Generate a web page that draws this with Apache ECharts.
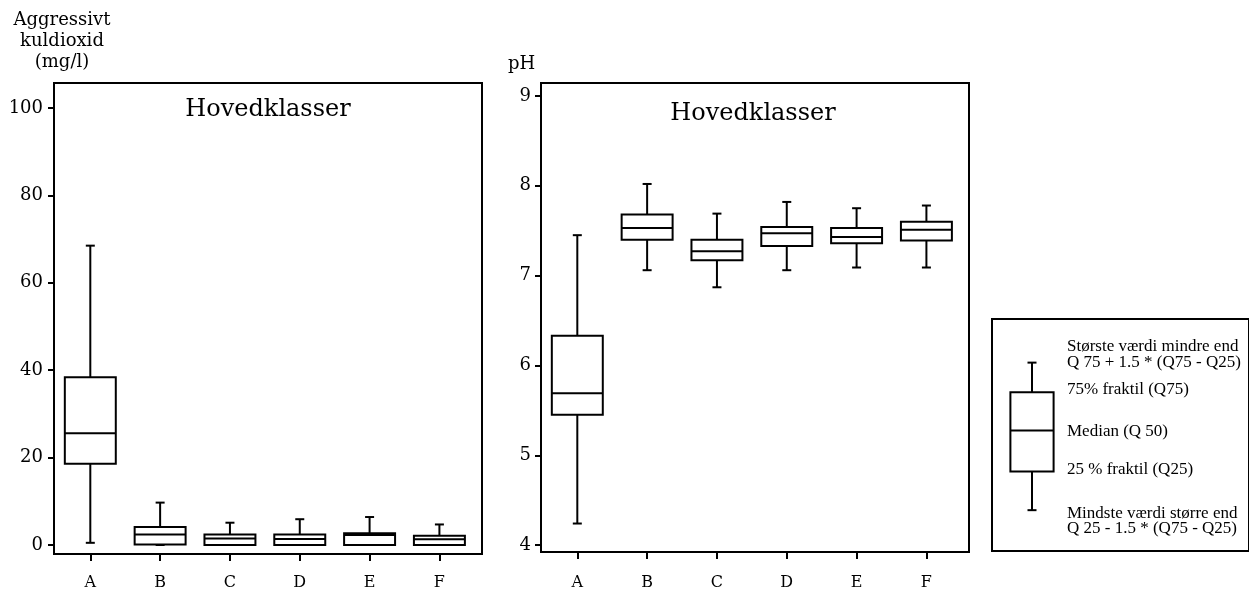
<!DOCTYPE html>
<html><head><meta charset="utf-8">
<script src="https://cdn.jsdelivr.net/npm/echarts@6/dist/echarts.min.js"></script>
<style>html,body{margin:0;padding:0;background:#fff}#c{width:1249px;height:591px}</style>
</head><body><div id="c"></div>
<script>
// ---- data ----
const categories = ['A','B','C','D','E','F'];
// Aggressivt kuldioxid (mg/l)
const co2Min    = [0.5, 0, 0, 0, 0, 0];
const co2Q1     = [18.6, 0.1, 0, 0, 0, 0];
const co2Median = [25.6, 2.4, 1.5, 1.4, 2.3, 1.3];
const co2Q3     = [38.4, 4.1, 2.4, 2.4, 2.7, 2.1];
const co2Max    = [68.5, 9.7, 5.1, 5.9, 6.4, 4.7];
// pH
const phMin    = [4.24, 7.06, 6.87, 7.06, 7.09, 7.09];
const phQ1     = [5.45, 7.40, 7.17, 7.33, 7.36, 7.39];
const phMedian = [5.69, 7.53, 7.27, 7.47, 7.43, 7.51];
const phQ3     = [6.33, 7.68, 7.40, 7.54, 7.53, 7.60];
const phMax    = [7.45, 8.02, 7.69, 7.82, 7.75, 7.78];
// explanatory sample box (illustrative)
const sampleBox = [17.6, 34.3, 51.9, 68.4, 81.2];
const co2Ticks = [0, 20, 40, 60, 80, 100];
const phTicks = [4, 5, 6, 7, 8, 9];
const catIdx = categories.map((c, i) => i);

const titleText = 'Hovedklasser';
const co2Name = 'Aggressivt\nkuldioxid\n(mg/l)';
const phName = 'pH';
const legendLines = [
  'Største værdi mindre end\nQ 75 + 1.5 * (Q75 - Q25)',
  '75% fraktil (Q75)',
  'Median (Q 50)',
  '25 % fraktil (Q25)',
  'Mindste værdi større end\nQ 25 - 1.5 * (Q75 - Q25)'
];

function build(mn, q1, md, q3, mx) {
  return mn.map((v, i) => [i, v, q1[i], md[i], q3[i], mx[i]]);
}

const SERIF = '"DejaVu Serif", serif';
const TIMES = '"Liberation Serif", serif';

function makeRender(boxFrac, capW) {
  return function (params, api) {
    const x = api.value(0);
    const lo = api.coord([x, api.value(1)]);
    const q1 = api.coord([x, api.value(2)]);
    const md = api.coord([x, api.value(3)]);
    const q3 = api.coord([x, api.value(4)]);
    const hi = api.coord([x, api.value(5)]);
    const bw = api.size([1, 0])[0] * boxFrac;
    const cx = lo[0], h = bw / 2, c = capW / 2;
    const st = { stroke: '#000', lineWidth: 2, fill: null };
    return { type: 'group', children: [
      { type: 'line', shape: { x1: cx, y1: hi[1], x2: cx, y2: q3[1] }, style: st },
      { type: 'line', shape: { x1: cx - c, y1: hi[1], x2: cx + c, y2: hi[1] }, style: st },
      { type: 'line', shape: { x1: cx, y1: q1[1], x2: cx, y2: lo[1] }, style: st },
      { type: 'line', shape: { x1: cx - c, y1: lo[1], x2: cx + c, y2: lo[1] }, style: st },
      { type: 'rect', shape: { x: cx - h, y: q3[1], width: bw, height: q1[1] - q3[1] }, style: { stroke: '#000', lineWidth: 2, fill: '#fff' } },
      { type: 'line', shape: { x1: cx - h, y1: md[1], x2: cx + h, y2: md[1] }, style: st }
    ]};
  };
}

function catXAxis(gi, margin) {
  return {
    type: 'value', gridIndex: gi, min: -0.52, max: 5.61,
    splitLine: { show: false }, axisLine: { show: false, onZero: false },
    axisTick: { show: true, inside: false, length: 7, customValues: catIdx, lineStyle: { color: '#000', width: 2 } },
    axisLabel: { customValues: catIdx, margin: margin, color: '#000', fontFamily: SERIF, fontSize: 16,
      formatter: v => categories[Math.round(v)] }
  };
}
function valYAxis(gi, mn, mx, ticks, margin) {
  return {
    type: 'value', gridIndex: gi, min: mn, max: mx,
    splitLine: { show: false }, axisLine: { show: false, onZero: false },
    axisTick: { show: true, length: 6, customValues: ticks, lineStyle: { color: '#000', width: 2 } },
    axisLabel: { customValues: ticks, margin: margin, color: '#000', fontFamily: SERIF, fontSize: 18 }
  };
}

const option = {
  animation: false,
  backgroundColor: '#fff',
  grid: [
    { left: 54, top: 83, width: 428, height: 471, show: true, borderColor: '#000', borderWidth: 2, backgroundColor: 'transparent' },
    { left: 541, top: 83, width: 428, height: 472, show: true, borderColor: '#000', borderWidth: 2, backgroundColor: 'transparent' },
    { left: 992, top: 319, width: 290, height: 232, show: true, borderColor: '#000', borderWidth: 2, backgroundColor: 'transparent' },
    { left: 1002, top: 319, width: 60, height: 232, show: false }
  ],
  xAxis: [
    catXAxis(0, 21),
    catXAxis(1, 23),
    { type: 'value', gridIndex: 2, min: 0, max: 1, show: false },
    { type: 'value', gridIndex: 3, min: -0.5, max: 0.5, show: false }
  ],
  yAxis: [
    valYAxis(0, -2.06, 105.72, co2Ticks, 11),
    valYAxis(1, 3.923, 9.144, phTicks, 10),
    { type: 'value', gridIndex: 2, min: 0, max: 1, show: false },
    { type: 'value', gridIndex: 3, min: 0, max: 100, show: false }
  ],
  series: [
    { type: 'custom', xAxisIndex: 0, yAxisIndex: 0, renderItem: makeRender(0.73, 9),
      encode: { x: 0, y: [1, 2, 3, 4, 5] }, data: build(co2Min, co2Q1, co2Median, co2Q3, co2Max), silent: true },
    { type: 'custom', xAxisIndex: 1, yAxisIndex: 1, renderItem: makeRender(0.73, 9),
      encode: { x: 0, y: [1, 2, 3, 4, 5] }, data: build(phMin, phQ1, phMedian, phQ3, phMax), silent: true },
    { type: 'custom', xAxisIndex: 3, yAxisIndex: 3, renderItem: makeRender(0.72, 9),
      encode: { x: 0, y: [1, 2, 3, 4, 5] }, data: [[0].concat(sampleBox)], silent: true }
  ],
  graphic: [
    { type: 'text', x: 268, y: 110, style: { text: titleText, font: '24px ' + SERIF, fill: '#000', align: 'center', verticalAlign: 'middle' } },
    { type: 'text', x: 753, y: 114, style: { text: titleText, font: '24px ' + SERIF, fill: '#000', align: 'center', verticalAlign: 'middle' } },
    { type: 'text', x: 62, y: 41, style: { text: co2Name, font: '18px ' + SERIF, lineHeight: 21, fill: '#000', align: 'center', verticalAlign: 'middle' } },
    { type: 'text', x: 508, y: 64, style: { text: phName, font: '18px ' + SERIF, fill: '#000', align: 'left', verticalAlign: 'middle' } },
    { type: 'text', x: 1067, y: 355, style: { text: legendLines[0], font: '17px ' + TIMES, lineHeight: 16, fill: '#000', align: 'left', verticalAlign: 'middle' } },
    { type: 'text', x: 1067, y: 390, style: { text: legendLines[1], font: '17px ' + TIMES, fill: '#000', align: 'left', verticalAlign: 'middle' } },
    { type: 'text', x: 1067, y: 432, style: { text: legendLines[2], font: '17px ' + TIMES, fill: '#000', align: 'left', verticalAlign: 'middle' } },
    { type: 'text', x: 1067, y: 470, style: { text: legendLines[3], font: '17px ' + TIMES, fill: '#000', align: 'left', verticalAlign: 'middle' } },
    { type: 'text', x: 1067, y: 521, style: { text: legendLines[4], font: '17px ' + TIMES, lineHeight: 15, fill: '#000', align: 'left', verticalAlign: 'middle' } }
  ]
};
const chart = echarts.init(document.getElementById('c'), null, { renderer: 'canvas' });
chart.setOption(option);
</script>
</body></html>
